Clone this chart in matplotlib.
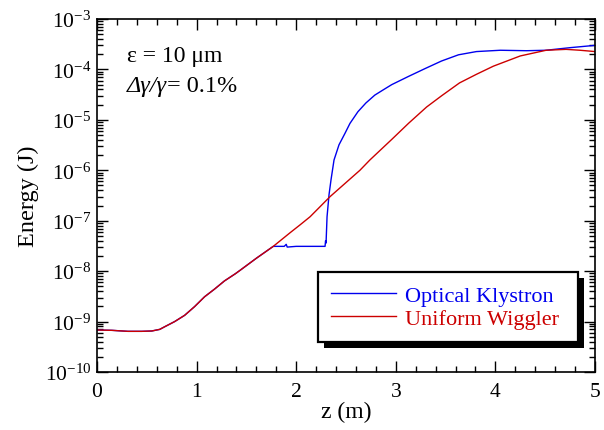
import matplotlib
matplotlib.use('Agg')
import matplotlib.pyplot as plt
import matplotlib.patheffects as pe
from matplotlib.ticker import LogLocator, MultipleLocator, NullFormatter

plt.rcParams['font.family'] = ['Liberation Serif', 'DejaVu Serif']
plt.rcParams['mathtext.fontset'] = 'custom'
plt.rcParams['mathtext.rm'] = 'Liberation Serif'
plt.rcParams['mathtext.it'] = 'Liberation Serif:italic'

# Uniform wiggler: energy (J) along the undulator z (m)
uw_z = [0.0, 0.15, 0.31, 0.45, 0.55, 0.63, 0.68, 0.78, 0.88, 0.98, 1.08, 1.18,
        1.28, 1.39, 1.44, 1.6, 1.77, 1.94, 2.04, 2.14, 2.34, 2.64, 2.74,
        2.96, 3.13, 3.31, 3.46, 3.64, 3.81, 3.98, 4.25, 4.51, 4.71, 4.85, 5.0]
uw_e = [6.8e-10, 6.7e-10, 6.4e-10, 6.4e-10, 6.5e-10, 7.0e-10, 7.9e-10, 1.0e-9,
        1.33e-9, 1.98e-9, 3.1e-9, 4.4e-9, 6.4e-9, 8.9e-9, 1.05e-8, 1.8e-8,
        3.1e-8, 5.8e-8, 8.3e-8, 1.2e-7, 3.0e-7, 1.0e-6, 1.6e-6, 4.1e-6, 8.6e-6,
        1.8e-5, 3.0e-5, 5.4e-5, 8.0e-5, 1.16e-4, 1.85e-4, 2.4e-4, 2.5e-4,
        2.4e-4, 2.26e-4]

# Optical klystron: follows the wiggler until the dispersive section
ok_z = [0.0, 0.15, 0.31, 0.45, 0.55, 0.63, 0.68, 0.78, 0.88, 0.98, 1.08, 1.18,
        1.28, 1.39, 1.44, 1.6, 1.77, 1.8, 1.88, 1.9, 1.91, 2.0, 2.2, 2.29,
        2.295, 2.30, 2.31, 2.33, 2.35, 2.38, 2.43, 2.49, 2.54, 2.62, 2.70,
        2.79, 2.88, 2.96, 3.13, 3.29, 3.46, 3.63, 3.81, 4.05, 4.31, 4.51,
        4.75, 5.0]
ok_e = [6.8e-10, 6.7e-10, 6.4e-10, 6.4e-10, 6.5e-10, 7.0e-10, 7.9e-10, 1.0e-9,
        1.33e-9, 1.98e-9, 3.1e-9, 4.4e-9, 6.4e-9, 8.9e-9, 1.05e-8, 1.8e-8,
        3.1e-8, 3.1e-8, 3.1e-8, 3.4e-8, 3.0e-8, 3.1e-8, 3.1e-8, 3.1e-8,
        4.0e-8, 3.6e-8, 1.2e-7, 3.3e-7, 6.5e-7, 1.6e-6, 3.2e-6, 5.4e-6,
        8.5e-6, 1.45e-5, 2.16e-5, 3.1e-5, 4.0e-5, 5.0e-5, 7.3e-5, 1.03e-4,
        1.47e-4, 1.95e-4, 2.26e-4, 2.4e-4, 2.35e-4, 2.4e-4, 2.7e-4, 3.0e-4]

y_ticks = [1e-10, 1e-9, 1e-8, 1e-7, 1e-6, 1e-5, 1e-4, 1e-3]

fig = plt.figure(figsize=(6.04, 4.31), dpi=100)
ax = fig.add_axes([0.1606, 0.1346, 0.8244, 0.8190])

blue = '#0000ee'
red = '#cc0000'
ax.plot(ok_z, ok_e, color=blue, lw=1.0, label='Optical Klystron')
ax.plot(uw_z, uw_e, color=red, lw=1.0, label='Uniform Wiggler')

ax.set_yscale('log')
ax.set_xlim(0, 5)
ax.set_ylim(1e-10, 1e-3)
ax.xaxis.set_major_locator(MultipleLocator(1))
ax.xaxis.set_minor_locator(MultipleLocator(0.2))
ax.set_yticks(y_ticks)
ax.yaxis.set_minor_locator(LogLocator(base=10, subs=range(2, 10), numticks=20))
ax.yaxis.set_minor_formatter(NullFormatter())

ax.tick_params(which='both', direction='in', top=True, right=True, width=1.0,
               labelsize=15.5)
ax.tick_params(which='major', length=8)
ax.tick_params(which='minor', length=4)
ax.tick_params(axis='x', pad=7)
ax.tick_params(axis='y', pad=4)
for s in ax.spines.values():
    s.set_linewidth(1.2)

ax.set_xlabel('z (m)', fontsize=17, labelpad=0)
ax.set_ylabel('Energy (J)', fontsize=17.5, labelpad=4)

# Beam parameters
ax.text(0.06, 0.881, 'ε = 10 μm', transform=ax.transAxes, fontsize=17,
        va='baseline')
t1 = ax.text(0.06, 0.796, 'Δγ/γ', transform=ax.transAxes, fontsize=17.5,
             va='baseline', style='italic')
ax.annotate('= 0.1%', xy=(1, 0), xycoords=t1, fontsize=17.5, va='bottom')

# Boxed legend with a solid drop shadow, stretched to a fixed width
leg = ax.legend(loc='lower left', bbox_to_anchor=(0.4438, 0.085, 0.522, 0.2),
                mode='expand', fontsize=16, frameon=True, fancybox=False,
                framealpha=1, edgecolor='black', handlelength=2.9,
                handletextpad=0.4, labelspacing=0.1, borderpad=0.6,
                borderaxespad=0)
leg.get_frame().set_linewidth(1.6)
leg.get_frame().set_path_effects([
    pe.SimplePatchShadow(offset=(4.5, -4.5), shadow_rgbFace='black', alpha=1.0),
    pe.Normal()])
for txt, c in zip(leg.get_texts(), [blue, red]):
    txt.set_color(c)

fig.savefig('out.png', dpi=100)
